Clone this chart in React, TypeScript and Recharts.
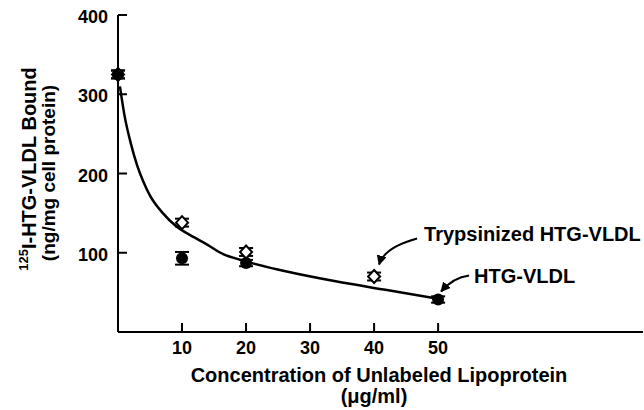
import {
  ComposedChart,
  Line,
  Scatter,
  ErrorBar,
  XAxis,
  YAxis,
  ReferenceDot,
  Customized,
} from "recharts";

const FONT = "'Liberation Sans', Arial, Helvetica, sans-serif";

// fitted curve
const curveX = [0.3, 1, 2, 3, 4, 5, 7, 9, 12, 14, 16, 20, 26, 34, 42, 50];
const curveY = [310, 274, 238, 210, 189, 172, 150, 134, 119, 110, 100, 89, 77, 64, 53, 42];

// HTG-VLDL (filled circles)
const htgX = [0, 10, 20, 50];
const htgY = [325, 93, 87, 41];
const htgErr = [5, 8, 4, 4];

// Trypsinized HTG-VLDL (open diamonds)
const trypX = [0, 10, 20, 40];
const trypY = [325, 138, 101, 70];
const trypErr = [5, 5, 5, 5];

const xTicks = [10, 20, 30, 40, 50];
const yTicks = [100, 200, 300, 400];

const curveData = curveX.map((x, i) => ({ x, y: curveY[i] }));
const htgData = htgX.map((x, i) => ({ x, y: htgY[i], err: htgErr[i] }));
const trypData = trypX.map((x, i) => ({ x, y: trypY[i], err: trypErr[i] }));

const XTick = (props: any) => {
  const { x, y, payload } = props;
  return (
    <g>
      <line x1={x} y1={y} x2={x} y2={y - 9} stroke="#000" strokeWidth={2} />
      <text x={x} y={y + 22} textAnchor="middle" fontFamily={FONT} fontWeight="bold" fontSize={18} fill="#000">
        {payload.value}
      </text>
    </g>
  );
};

const YTick = (props: any) => {
  const { x, y, payload } = props;
  return (
    <g>
      <line x1={x} y1={y} x2={x + 9} y2={y} stroke="#000" strokeWidth={2} />
      <text x={x - 10} y={y + 8} textAnchor="end" fontFamily={FONT} fontWeight="bold" fontSize={18} fill="#000">
        {payload.value}
      </text>
    </g>
  );
};

const Circle = (props: any) => {
  const { cx, cy } = props;
  return <circle cx={cx} cy={cy} r={6} fill="#000" />;
};

const Diamond = (props: any) => {
  const { cx, cy } = props;
  return (
    <path
      d={`M${cx},${cy - 6.5} L${cx + 6},${cy} L${cx},${cy + 6.5} L${cx - 6},${cy} Z`}
      fill="#fff"
      stroke="#000"
      strokeWidth={2}
    />
  );
};

const TrypNote = (props: any) => {
  const { cx, cy } = props;
  return (
    <g>
      <path
        d={`M${cx + 43},${cy - 38} Q${cx + 10},${cy - 29} ${cx + 5},${cy - 12}`}
        fill="none"
        stroke="#000"
        strokeWidth={2}
        markerEnd="url(#arrowHead)"
      />
      <text x={cx + 50} y={cy - 36} fontFamily={FONT} fontWeight="bold" fontSize={20} fill="#000">
        Trypsinized HTG-VLDL
      </text>
    </g>
  );
};

const HtgNote = (props: any) => {
  const { cx, cy } = props;
  return (
    <g>
      <path
        d={`M${cx + 31},${cy - 24} Q${cx + 15},${cy - 22} ${cx + 3},${cy - 8}`}
        fill="none"
        stroke="#000"
        strokeWidth={2}
        markerEnd="url(#arrowHead)"
      />
      <text x={cx + 36} y={cy - 17} fontFamily={FONT} fontWeight="bold" fontSize={20} fill="#000">
        HTG-VLDL
      </text>
    </g>
  );
};

const Labels = () => (
  <g fontFamily={FONT} fontWeight="bold" fill="#000">
    <defs>
      <marker id="arrowHead" viewBox="0 0 10 10" refX="9" refY="5" markerWidth="5" markerHeight="5" orient="auto" markerUnits="strokeWidth">
        <path d="M0,0 L10,5 L0,10 Z" fill="#000" />
      </marker>
    </defs>
    <text x={379} y={382} textAnchor="middle" fontSize={20}>
      Concentration of Unlabeled Lipoprotein
    </text>
    <text x={374} y={403} textAnchor="middle" fontSize={20}>
      (μg/ml)
    </text>
    <text transform="translate(36,169) rotate(-90)" textAnchor="middle" fontSize={20}>
      <tspan fontSize={13} dy={-8}>125</tspan>
      <tspan dy={8}>I-HTG-VLDL Bound</tspan>
    </text>
    <text transform="translate(55,173) rotate(-90)" textAnchor="middle" fontSize={19}>
      (ng/mg cell protein)
    </text>
  </g>
);

export default function App() {
  return (
    <div style={{ position: "absolute", left: 0, top: 0, background: "#fff" }}>
      <ComposedChart width={644} height={410} margin={{ top: 15, right: 1, bottom: 48, left: 0 }}>
        <XAxis
          dataKey="x"
          type="number"
          domain={[0, 82]}
          ticks={xTicks}
          height={30}
          tickSize={0}
          tickMargin={0}
          tickLine={false}
          tick={<XTick />}
          axisLine={{ stroke: "#000", strokeWidth: 2 }}
          allowDecimals={false}
        />
        <YAxis
          type="number"
          domain={[0, 400]}
          ticks={yTicks}
          width={118}
          tickSize={0}
          tickMargin={0}
          tickLine={false}
          tick={<YTick />}
          axisLine={{ stroke: "#000", strokeWidth: 2 }}
        />
        <Line
          data={curveData}
          dataKey="y"
          type="monotone"
          stroke="#000"
          strokeWidth={2.5}
          dot={false}
          activeDot={false}
          isAnimationActive={false}
        />
        <Scatter data={trypData} dataKey="y" shape={<Diamond />} isAnimationActive={false}>
          <ErrorBar dataKey="err" direction="y" width={7} stroke="#000" strokeWidth={2} isAnimationActive={false} />
        </Scatter>
        <Scatter data={htgData} dataKey="y" shape={<Circle />} isAnimationActive={false}>
          <ErrorBar dataKey="err" direction="y" width={7} stroke="#000" strokeWidth={2} isAnimationActive={false} />
        </Scatter>
        <Customized component={Labels} />
        <ReferenceDot x={trypX[3]} y={trypY[3]} shape={TrypNote} />
        <ReferenceDot x={htgX[3]} y={htgY[3]} shape={HtgNote} />
      </ComposedChart>
    </div>
  );
}
